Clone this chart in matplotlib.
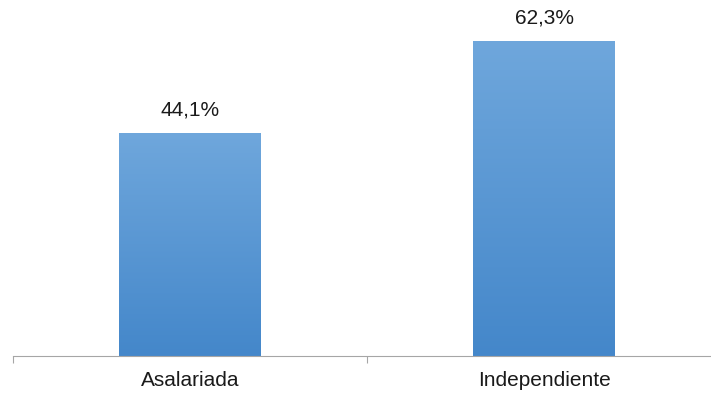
import numpy as np
import matplotlib.pyplot as plt
from matplotlib.colors import LinearSegmentedColormap

plt.rcParams['font.family'] = ['Liberation Sans', 'DejaVu Sans']

# datos
categorias = ['Asalariada', 'Independiente']
valores = [44.1, 62.3]
etiquetas = ['44,1%', '62,3%']

fig = plt.figure(figsize=(7.11, 3.93), dpi=100)
# el eje se extiende un poco más allá del borde derecho (recorte del original)
ax = fig.add_axes([13 / 711, 37 / 393, 708 / 711, 356 / 393])

x = np.arange(len(categorias))
barras = ax.bar(x, valores, width=0.4, color='none', edgecolor='none')

# degradado vertical dentro de cada barra
cmap = LinearSegmentedColormap.from_list('azul', ['#4487ca', '#6fa7dc'])
grad = np.linspace(0, 1, 256).reshape(-1, 1)
for b in barras:
    x0, w, h = b.get_x(), b.get_width(), b.get_height()
    im = ax.imshow(grad, cmap=cmap, origin='lower', aspect='auto',
                   extent=[x0, x0 + w, 0, h], zorder=2)
    im.set_clip_path(b)

for xi, v, t in zip(x, valores, etiquetas):
    ax.text(xi, v + 2.6, t, ha='center', va='bottom', fontsize=15, color='#1a1a1a')

ax.set_xlim(-0.5, 1.5)
ax.set_ylim(0, 70.4)
for s in ['top', 'right', 'left']:
    ax.spines[s].set_visible(False)
ax.spines['bottom'].set_color('#a6a6a6')
ax.set_yticks([])
ax.set_xticks([-0.5, 0.5, 1.5])
ax.set_xticklabels([])
ax.set_xticks(x, minor=True)
ax.set_xticklabels(categorias, minor=True, fontsize=15, color='#1a1a1a')
ax.tick_params(axis='x', which='major', length=5, color='#a6a6a6', direction='out')
ax.tick_params(axis='x', which='minor', length=0, pad=11)

fig.savefig('out.png', dpi=100)
